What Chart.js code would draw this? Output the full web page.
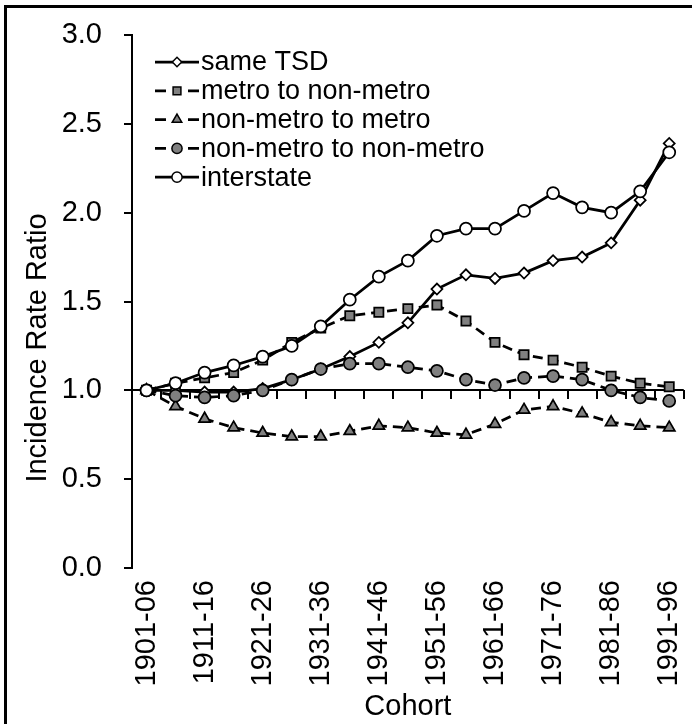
<!DOCTYPE html>
<html>
<head>
<meta charset="utf-8">
<script src="https://cdn.jsdelivr.net/npm/chart.js@4.4.1/dist/chart.umd.min.js"></script>
<style>
  html, body { margin: 0; padding: 0; background: #fff; overflow: hidden; }
  #wrap { position: relative; width: 692px; height: 724px; }
  #frame { position: absolute; left: 4px; top: 5px; width: 720px; height: 740px; border-left: 3px solid #000; border-top: 3px solid #000; }
  #myChart { position: absolute; left: 0; top: 0; }
</style>
</head>
<body>
<div id="wrap">
  <div id="frame"></div>
  <canvas id="myChart" width="692" height="724"></canvas>
</div>
<script>
// cohorts (every other one gets a label on the axis)
const cohorts = ["1901-06", "1906-11", "1911-16", "1916-21", "1921-26", "1926-31", "1931-36",
  "1936-41", "1941-46", "1946-51", "1951-56", "1956-61", "1961-66", "1966-71", "1971-76",
  "1976-81", "1981-86", "1986-91", "1991-96"];

const sameTSD = [1.00, 1.00, 0.99, 0.99, 1.01, 1.06, 1.12, 1.19, 1.27, 1.38, 1.57, 1.65, 1.63, 1.66, 1.73, 1.75, 1.83, 2.07, 2.39];
const metroToNonMetro = [1.00, 1.04, 1.07, 1.10, 1.17, 1.27, 1.35, 1.42, 1.44, 1.46, 1.48, 1.39, 1.27, 1.20, 1.17, 1.13, 1.08, 1.04, 1.02];
const nonMetroToMetro = [1.00, 0.91, 0.84, 0.79, 0.76, 0.74, 0.74, 0.77, 0.80, 0.79, 0.76, 0.75, 0.81, 0.89, 0.91, 0.87, 0.82, 0.80, 0.79];
const nonMetroToNonMetro = [1.00, 0.97, 0.96, 0.97, 1.00, 1.06, 1.12, 1.15, 1.15, 1.13, 1.11, 1.06, 1.03, 1.07, 1.08, 1.06, 1.00, 0.96, 0.94];
const interstate = [1.00, 1.04, 1.10, 1.14, 1.19, 1.25, 1.36, 1.51, 1.64, 1.73, 1.87, 1.91, 1.91, 2.01, 2.11, 2.03, 2.00, 2.12, 2.34];

const yTicks = [0, 0.5, 1.0, 1.5, 2.0, 2.5, 3.0];
const crossAt = 1.0; // horizontal axis crosses here

const fontFam = "'Liberation Sans', Arial, sans-serif";
Chart.defaults.font.family = fontFam;
Chart.defaults.color = "#000";

const gray = "#808080";
const dash = [10, 6];

function series(label, data, style, radius, fill, dashed, order) {
  return {
    label: label,
    data: data,
    xAxisID: "x",
    yAxisID: "y",
    borderColor: "#000",
    borderWidth: 2.75,
    borderDash: dashed ? dash : [],
    tension: 0,
    fill: false,
    pointStyle: style,
    pointRadius: radius,
    pointBackgroundColor: fill,
    pointBorderColor: "#000",
    pointBorderWidth: 1.75,
    order: order,
  };
}

// category axis line at y = 1.0 with tick marks between cohorts
const crossAxis = {
  id: "crossAxis",
  beforeDatasetsDraw(chart) {
    const ctx = chart.ctx;
    const area = chart.chartArea;
    const yPix = Math.round(chart.scales.y.getPixelForValue(crossAt));
    const step = (area.right - area.left) / cohorts.length;
    ctx.save();
    ctx.fillStyle = "#000";
    ctx.fillRect(area.left, yPix - 1, area.right - area.left, 2);
    for (let i = 0; i <= cohorts.length; i++) {
      const bx = Math.round(area.left + i * step);
      ctx.fillRect(bx - 1, yPix, 2, 9);
    }
    ctx.restore();
  },
};

// legend + y title drawn by hand (Excel-like layout)
const extras = {
  id: "extras",
  afterDraw(chart) {
    const ctx = chart.ctx;
    ctx.save();
    chart.data.datasets.forEach((ds, i) => {
      const y = 62 + i * 28.8;
      ctx.strokeStyle = "#000";
      ctx.lineWidth = ds.borderWidth;
      ctx.setLineDash(ds.borderDash.length ? [11, 22] : []);
      ctx.beginPath();
      ctx.moveTo(155, y);
      ctx.lineTo(199, y);
      ctx.stroke();
      ctx.setLineDash([]);
      ctx.fillStyle = ds.pointBackgroundColor;
      ctx.lineWidth = 1.5;
      Chart.helpers.drawPoint(ctx, {
        pointStyle: ds.pointStyle,
        radius: ds.pointRadius * 0.85,
        rotation: 0,
        borderWidth: 1.5,
      }, 177, y);
      ctx.fillStyle = "#000";
      ctx.font = "27px " + fontFam;
      ctx.textAlign = "left";
      ctx.textBaseline = "middle";
      ctx.fillText(ds.label, 201, y + 1);
    });

    ctx.translate(38, 348);
    ctx.rotate(-Math.PI / 2);
    ctx.font = "29px " + fontFam;
    ctx.textAlign = "center";
    ctx.textBaseline = "middle";
    ctx.fillText("Incidence Rate Ratio", 0, 0);
    ctx.restore();
  },
};

new Chart(document.getElementById("myChart"), {
  type: "line",
  data: {
    labels: cohorts,
    datasets: [
      series("same TSD", sameTSD, "rectRot", 5.5, "#fff", false, 5),
      series("metro to non-metro", metroToNonMetro, "rect", 6.5, gray, true, 4),
      series("non-metro to metro", nonMetroToMetro, "triangle", 6.5, gray, true, 3),
      series("non-metro to non-metro", nonMetroToNonMetro, "circle", 6, gray, true, 2),
      series("interstate", interstate, "circle", 6, "#fff", false, 1),
    ],
  },
  options: {
    responsive: false,
    animation: false,
    devicePixelRatio: 1,
    layout: { padding: { left: 62, right: 5, top: 35, bottom: 0 } },
    plugins: {
      legend: { display: false },
      tooltip: { enabled: false },
    },
    scales: {
      x: {
        type: "category",
        offset: true,
        grid: { display: false, drawTicks: false },
        border: { display: false },
        ticks: {
          autoSkip: false,
          minRotation: 90,
          maxRotation: 90,
          padding: 12,
          font: { size: 29 },
          callback: function (v, i) {
            return i % 2 === 0 ? this.getLabelForValue(v) : "";
          },
        },
        title: { display: true, text: "Cohort", font: { size: 29 }, padding: { top: 0, bottom: 0 } },
        afterFit: (axis) => {
          axis.height = 156;
          axis.paddingLeft = 0;
          axis.paddingRight = 0;
        },
      },
      y: {
        min: 0,
        max: 3,
        position: "left",
        afterBuildTicks: (axis) => { axis.ticks = yTicks.map((v) => ({ value: v })); },
        ticks: {
          padding: 22,
          font: { size: 29 },
          callback: (v) => v.toFixed(1),
        },
        grid: { drawOnChartArea: false, tickLength: 8, color: "#000", lineWidth: 2 },
        border: { color: "#000", width: 2 },
        afterFit: (axis) => {
          axis.width = 70;
          axis.paddingTop = 0;
          axis.paddingBottom = 0;
        },
      },
    },
  },
  plugins: [crossAxis, extras],
});
</script>
</body>
</html>
